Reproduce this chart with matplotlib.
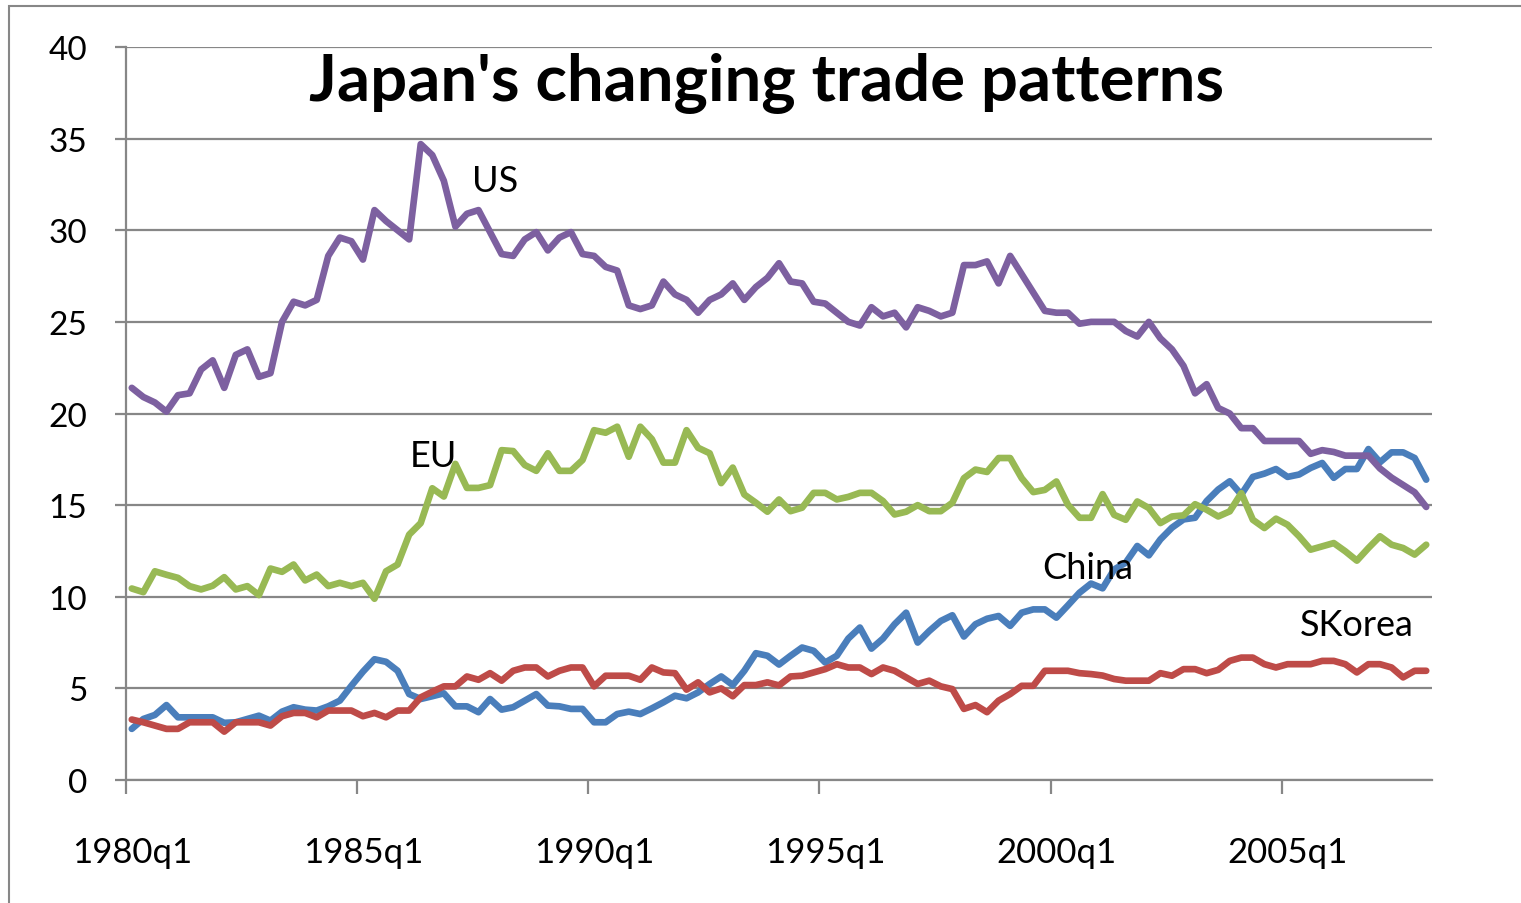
import matplotlib
matplotlib.use("Agg")
import matplotlib.pyplot as plt
import matplotlib.transforms as mtransforms
from matplotlib.patches import Rectangle

# quarterly data, 1980q1 .. 2008q1 (share of Japan's trade, %)
quarters = list(range(113))
tick_labels = ['1980q1', '1985q1', '1990q1', '1995q1', '2000q1', '2005q1']
yticks = [0, 5, 10, 15, 20, 25, 30, 35, 40]

us = [21.4, 20.9, 20.6, 20.1, 21.0, 21.1, 22.4, 22.9, 21.4, 23.2,
      23.5, 22.0, 22.2, 25.0, 26.1, 25.9, 26.2, 28.6, 29.6, 29.4,
      28.4, 31.1, 30.5, 30.0, 29.5, 34.7, 34.1, 32.7, 30.2, 30.9,
      31.1, 29.9, 28.7, 28.6, 29.5, 29.9, 28.9, 29.6, 29.9, 28.7,
      28.6, 28.0, 27.8, 25.9, 25.7, 25.9, 27.2, 26.5, 26.2, 25.5,
      26.2, 26.5, 27.1, 26.2, 26.9, 27.4, 28.2, 27.2, 27.1, 26.1,
      26.0, 25.5, 25.0, 24.8, 25.8, 25.3, 25.5, 24.7, 25.8, 25.6,
      25.3, 25.5, 28.1, 28.1, 28.3, 27.1, 28.6, 27.6, 26.6, 25.6,
      25.5, 25.5, 24.9, 25.0, 25.0, 25.0, 24.5, 24.2, 25.0, 24.1,
      23.5, 22.6, 21.1, 21.6, 20.3, 20.0, 19.2, 19.2, 18.5, 18.5,
      18.5, 18.5, 17.8, 18.0, 17.9, 17.7, 17.7, 17.7, 17.0, 16.5,
      16.1, 15.7, 14.9]

eu = [10.45, 10.25, 11.39, 11.2, 11.03, 10.58, 10.4, 10.6, 11.07, 10.4,
      10.58, 10.09, 11.54, 11.36, 11.76, 10.89, 11.21, 10.58, 10.76, 10.58,
      10.76, 9.89, 11.39, 11.76, 13.39, 14.02, 15.92, 15.47, 17.25, 15.94,
      15.94, 16.09, 18.0, 17.95, 17.19, 16.87, 17.83, 16.87, 16.87, 17.46,
      19.09, 18.95, 19.28, 17.64, 19.28, 18.6, 17.32, 17.32, 19.09, 18.13,
      17.83, 16.2, 17.05, 15.58, 15.13, 14.64, 15.31, 14.67, 14.86, 15.67,
      15.67, 15.31, 15.45, 15.67, 15.67, 15.22, 14.49, 14.64, 15.0, 14.67,
      14.67, 15.13, 16.47, 16.94, 16.81, 17.57, 17.57, 16.47, 15.71, 15.83,
      16.29, 15.02, 14.31, 14.31, 15.6, 14.47, 14.2, 15.2, 14.84, 14.02,
      14.38, 14.44, 15.05, 14.75, 14.38, 14.66, 15.65, 14.2, 13.75, 14.26,
      13.93, 13.3, 12.57, 12.75, 12.93, 12.48, 11.97, 12.66, 13.3, 12.84,
      12.66, 12.3, 12.84]

china = [2.79, 3.33, 3.55, 4.09, 3.42, 3.42, 3.42, 3.42, 3.12, 3.15,
         3.33, 3.51, 3.24, 3.73, 3.97, 3.84, 3.79, 4.02, 4.33, 5.14,
         5.91, 6.59, 6.45, 5.96, 4.69, 4.42, 4.57, 4.73, 4.02, 4.02,
         3.7, 4.42, 3.84, 3.97, 4.33, 4.69, 4.06, 4.02, 3.88, 3.88,
         3.15, 3.15, 3.6, 3.73, 3.6, 3.91, 4.24, 4.6, 4.46, 4.78,
         5.24, 5.65, 5.18, 5.96, 6.92, 6.78, 6.3, 6.78, 7.23, 7.05,
         6.41, 6.78, 7.72, 8.32, 7.17, 7.72, 8.5, 9.13, 7.5, 8.13,
         8.68, 8.99, 7.83, 8.5, 8.8, 8.95, 8.41, 9.13, 9.31, 9.31,
         8.86, 9.53, 10.22, 10.72, 10.46, 11.49, 11.86, 12.77, 12.26, 13.13,
         13.77, 14.22, 14.31, 15.22, 15.85, 16.3, 15.58, 16.54, 16.72, 16.97,
         16.54, 16.67, 17.03, 17.3, 16.49, 16.97, 16.97, 18.06, 17.34, 17.88,
         17.88, 17.57, 16.39]

skorea = [3.3, 3.15, 2.97, 2.79, 2.79, 3.15, 3.15, 3.15, 2.64, 3.15,
          3.15, 3.15, 2.97, 3.48, 3.66, 3.66, 3.42, 3.79, 3.79, 3.79,
          3.48, 3.66, 3.42, 3.79, 3.79, 4.51, 4.82, 5.11, 5.11, 5.65,
          5.47, 5.83, 5.42, 5.96, 6.14, 6.14, 5.65, 5.96, 6.14, 6.14,
          5.11, 5.69, 5.69, 5.69, 5.47, 6.14, 5.87, 5.83, 4.93, 5.33,
          4.78, 5.0, 4.57, 5.18, 5.18, 5.33, 5.16, 5.65, 5.69, 5.87,
          6.05, 6.32, 6.14, 6.14, 5.78, 6.14, 5.96, 5.6, 5.24, 5.42,
          5.11, 4.96, 3.88, 4.09, 3.7, 4.33, 4.69, 5.14, 5.14, 5.96,
          5.96, 5.96, 5.83, 5.78, 5.7, 5.51, 5.42, 5.42, 5.42, 5.83,
          5.69, 6.05, 6.05, 5.83, 6.01, 6.5, 6.68, 6.68, 6.32, 6.14,
          6.32, 6.32, 6.32, 6.5, 6.5, 6.32, 5.87, 6.32, 6.32, 6.14,
          5.6, 5.96, 5.96]

plt.rcParams['font.family'] = ['Lato', 'DejaVu Sans']

W, H = 1521, 904
fig = plt.figure(figsize=(W / 100, H / 100), dpi=100)
ax = fig.add_axes([126 / W, 1 - 781 / H, (1432 - 126) / W, (781 - 48) / H])

gray = '#878787'
lw = 4.8
style = dict(linewidth=lw, solid_joinstyle='round', solid_capstyle='round')
ax.plot(quarters, china, color='#4A7EBB', **style)
ax.plot(quarters, skorea, color='#BE4B48', **style)
ax.plot(quarters, eu, color='#98B954', **style)
ax.plot(quarters, us, color='#7D60A0', **style)

# labels placed on the chart
lab = dict(fontsize=26, ha='center', va='center', color='black')
ax.text(31.4, 32.7, 'US', **lab)
ax.text(26.1, 17.7, 'EU', **lab)
ax.text(82.7, 11.6, 'China', **lab)
ax.text(106.0, 8.5, 'SKorea', **lab)

ax.set_xlim(-0.5, 112.5)
ax.set_ylim(0, 40)
ax.set_xticks([-0.5 + 20 * k for k in range(len(tick_labels))])
ax.set_xticklabels(tick_labels)
ax.set_yticks(yticks)

ax.grid(True, axis='y', color=gray, linewidth=1.6)
ax.set_axisbelow(True)
for s in ['top', 'right']:
    ax.spines[s].set_visible(False)
for s in ['left', 'bottom']:
    ax.spines[s].set_color(gray)
    ax.spines[s].set_linewidth(1.6)
ax.tick_params(axis='y', direction='out', length=8, width=1.6, color=gray,
               labelsize=24, pad=20)
ax.tick_params(axis='x', direction='out', length=10, width=1.6, color=gray,
               labelsize=25, pad=30)

# x labels sit a little to the right of their ticks in the original
shift = mtransforms.ScaledTranslation(6 / 100, 0, fig.dpi_scale_trans)
for t in ax.get_xticklabels():
    t.set_transform(t.get_transform() + shift)

fig.text(767 / W, 1 - 84 / H, "Japan's changing trade patterns",
         fontsize=47, fontweight='bold', ha='center', va='center')

# outer chart frame (cut off at right and bottom)
fig.patches.append(Rectangle((9 / W, -0.1), 1.2, 1 - 7 / H + 0.1,
                             transform=fig.transFigure, fill=False,
                             edgecolor=gray, linewidth=1.5))

fig.savefig('out.png', dpi=100)
